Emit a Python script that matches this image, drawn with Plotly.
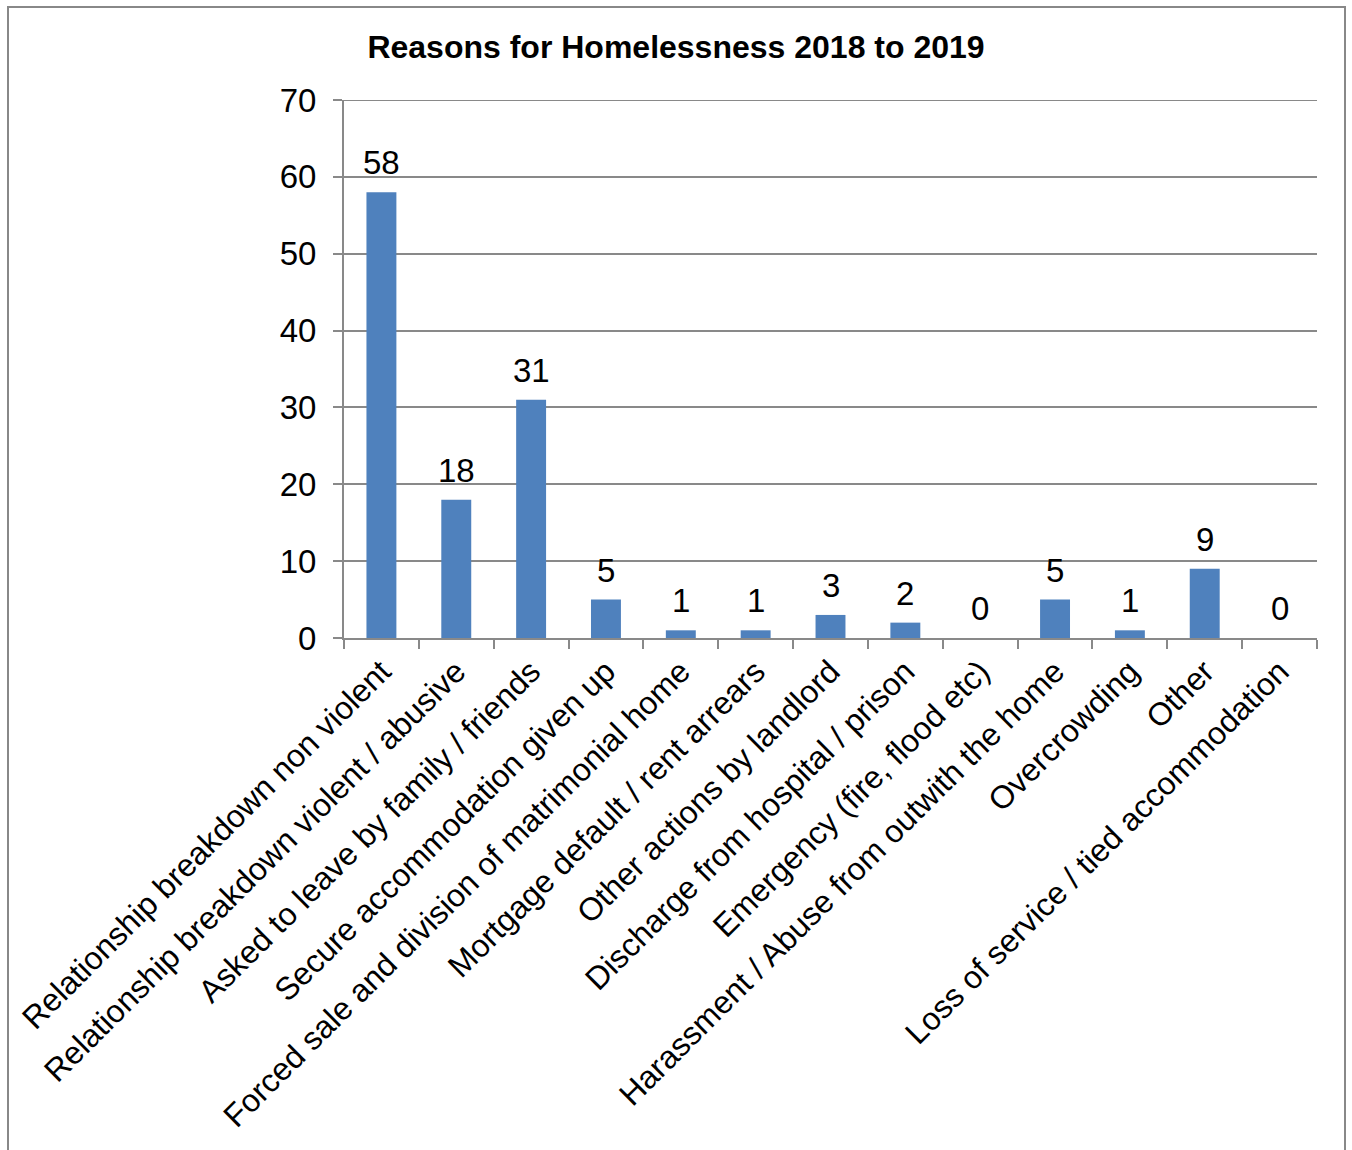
import plotly.graph_objects as go

categories = [
    "Relationship breakdown non violent",
    "Relationship breakdown violent / abusive",
    "Asked to leave by family / friends",
    "Secure accommodation given up",
    "Forced sale and division of matrimonial home",
    "Mortgage default / rent arrears",
    "Other actions by landlord",
    "Discharge from hospital / prison",
    "Emergency (fire, flood etc)",
    "Harassment / Abuse from outwith the home",
    "Overcrowding",
    "Other",
    "Loss of service / tied accommodation",
]
values = [58, 18, 31, 5, 1, 1, 3, 2, 0, 5, 1, 9, 0]
y_ticks = [0, 10, 20, 30, 40, 50, 60, 70]
y_max = 70
title_text = "Reasons for Homelessness 2018 to 2019"

FONT = "Liberation Sans, Arial, sans-serif"

fig = go.Figure(
    go.Bar(
        x=categories,
        y=values,
        marker=dict(color="#4F81BD", line=dict(width=0)),
        cliponaxis=False,
    )
)

for c, v in zip(categories, values):
    fig.add_annotation(
        x=c, y=v, xref="x", yref="y",
        text=str(v), showarrow=False,
        yanchor="bottom", yshift=9,
        font=dict(family=FONT, size=33, color="#000000"),
    )

L, R, T, B = 344, 35, 100, 512
W, H = 1352, 1150
pw = W - L - R
ph = H - T - B

fig.update_layout(
    width=W,
    height=H,
    margin=dict(l=L, r=R, t=T, b=B, pad=0),
    paper_bgcolor="white",
    plot_bgcolor="white",
    bargap=0.6,
    showlegend=False,
    title=dict(
        text="<b>" + title_text + "</b>",
        x=0.5,
        xanchor="center",
        xref="container",
        y=1 - 47 / H,
        yanchor="middle",
        font=dict(family=FONT, size=32, color="#000000"),
    ),
    font=dict(family=FONT, color="#000000"),
    xaxis=dict(
        type="category",
        tickangle=-45,
        ticks="outside",
        tickson="boundaries",
        ticklen=9,
        tickcolor="#898989",
        tickwidth=2,
        showline=True,
        linecolor="#898989",
        linewidth=2,
        showgrid=False,
        tickfont=dict(family=FONT, size=32, color="#000000"),
    ),
    yaxis=dict(
        range=[0, y_max],
        tickvals=y_ticks,
        ticks="outside",
        ticklen=9,
        tickcolor="#898989",
        tickwidth=2,
        ticklabelstandoff=10,
        showline=True,
        linecolor="#898989",
        linewidth=2,
        showgrid=True,
        gridcolor="#898989",
        gridwidth=2,
        zeroline=False,
        tickfont=dict(family=FONT, size=33, color="#000000"),
    ),
    shapes=[
        dict(
            type="rect",
            xref="paper",
            yref="paper",
            x0=(8 - L) / pw,
            x1=(1345 - L) / pw,
            y0=(H - B - 1160) / ph,
            y1=(H - B - 7) / ph,
            line=dict(color="#888888", width=2),
            fillcolor="rgba(0,0,0,0)",
            layer="below",
        ),
        dict(
            type="line",
            xref="paper",
            yref="y",
            x0=0,
            x1=1,
            y0=y_max,
            y1=y_max,
            line=dict(color="#898989", width=2),
            layer="below",
        ),
    ],
)

fig.write_html("out.html")
